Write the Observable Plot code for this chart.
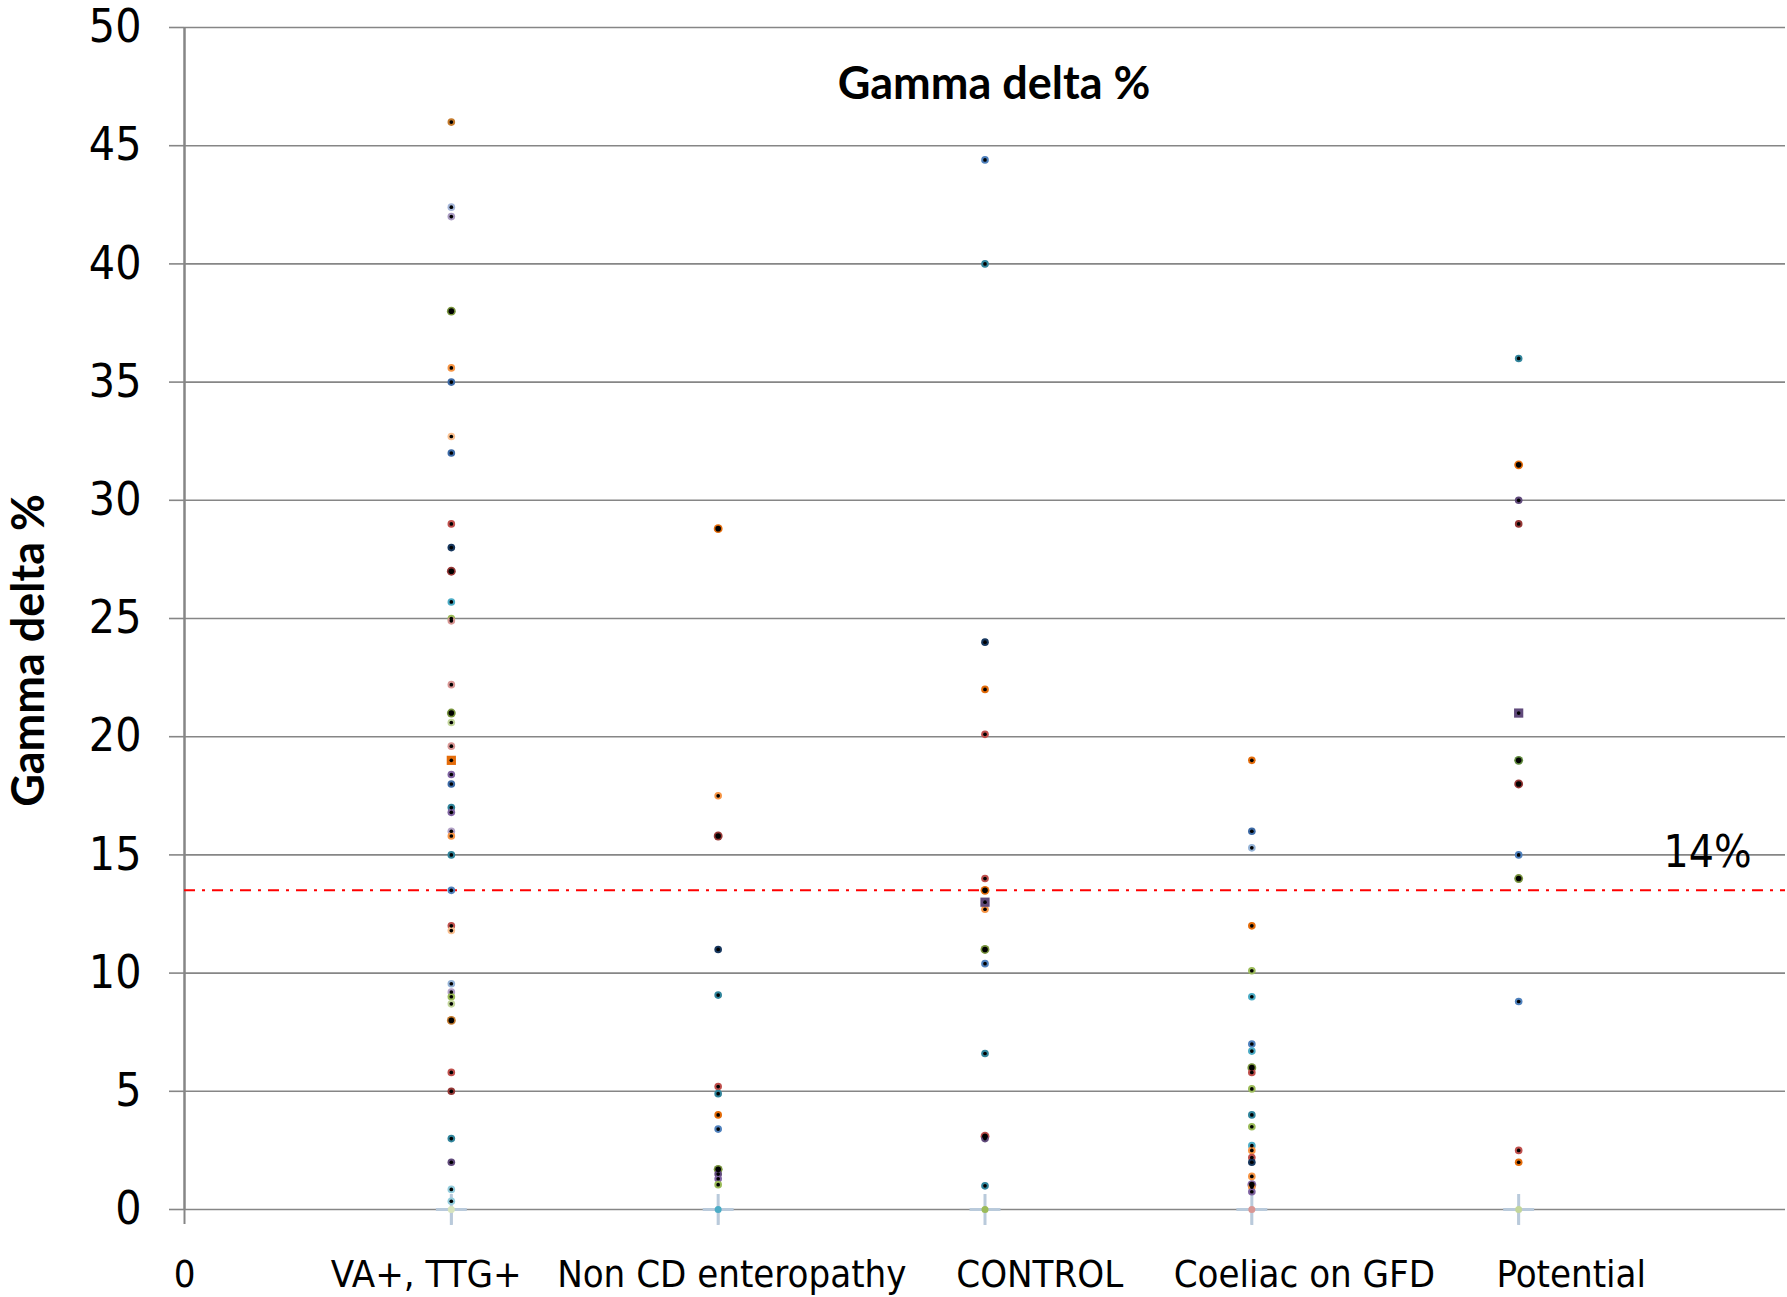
<!DOCTYPE html>
<html>
<head>
<meta charset="utf-8">
<script src="https://cdn.jsdelivr.net/npm/d3@7"></script>
<script src="https://cdn.jsdelivr.net/npm/@observablehq/plot@0.6"></script>
<style>
  html, body { margin: 0; padding: 0; background: #fff; }
  #chart svg { display: block; }
</style>
</head>
<body>
<div id="chart"></div>
<script>
// ---------- data ----------
const categories = ["VA+, TTG+", "Non CD enteropathy", "CONTROL", "Coeliac on GFD", "Potential"];
const xTickLabels = ["0", ...categories];
const yTicks = [0, 5, 10, 15, 20, 25, 30, 35, 40, 45, 50];
const chartTitle = "Gamma delta %";
const yLabel = "Gamma delta %";
const cutoff = 13.5;
const cutoffLabel = "14%";

const vaTtgValues = [46.0, 42.4, 42.0, 38.0, 35.6, 35.0, 32.7, 32.0, 29.0, 28.0, 27.0, 25.7, 25.0, 24.9,
  22.2, 21.0, 20.6, 19.6, 19.0, 18.4, 18.0, 17.0, 16.8, 16.0, 15.8, 15.0, 13.5, 12.0, 11.8,
  9.55, 9.2, 9.0, 8.7, 8.0, 5.8, 5.0, 3.0, 2.0, 0.85, 0.35];
const nonCdValues = [28.8, 17.5, 15.8, 11.0, 9.07, 5.2, 4.9, 4.0, 3.4, 1.7, 1.5, 1.3, 1.05];
const controlValues = [44.4, 40.0, 24.0, 22.0, 20.1, 14.0, 13.5, 13.0, 12.7, 11.0, 10.4, 6.6, 3.1, 3.0, 1.0];
const coeliacGfdValues = [19.0, 16.0, 15.3, 12.0, 10.1, 9.0, 7.0, 6.7, 6.0, 5.8, 5.1, 4.0, 3.5, 2.7, 2.5,
  2.2, 2.0, 1.4, 1.05, 0.95, 0.75];
const potentialValues = [36.0, 31.5, 30.0, 29.0, 21.0, 19.0, 18.0, 15.0, 14.0, 8.8, 2.5, 2.0];
const zeroValues = [0, 0, 0, 0, 0];

// ---------- styles (marker colours / kinds: s = small, L = large, q = square) ----------
const vaTtgColors = ["#C47A2C", "#A5B6D9", "#A99BC1", "#77933C", "#F79646", "#3D6AA6", "#FAC090", "#3D6AA6",
  "#C0504D", "#17375E", "#953735", "#4BACC6", "#9BBB59", "#D99694", "#D99694", "#77933C", "#C3D69B",
  "#D99694", "#E46C0A", "#8064A2", "#3D6AA6", "#31859C", "#8064A2", "#B3A2C7", "#F79646", "#31859C",
  "#4F81BD", "#C0504D", "#FAC090", "#95B3D7", "#B3A2C7", "#9BBB59", "#C3D69B", "#C47A2C", "#C0504D",
  "#953735", "#31859C", "#604A7B", "#93CDDD", "#93CDDD"];
const vaTtgKinds = ["s","s","s","L","s","s","s","s","s","s","L","s","s","s","s","L","s","s","q","s","s","s",
  "s","s","s","s","s","s","s","s","s","s","s","L","s","s","s","s","s","s"];
const nonCdColors = ["#E46C0A", "#F79646", "#953735", "#17375E", "#31859C", "#C0504D", "#31859C", "#E46C0A",
  "#4F81BD", "#77933C", "#604A7B", "#8064A2", "#9BBB59"];
const nonCdKinds = ["L","s","L","s","s","s","s","s","s","L","s","s","s"];
const controlColors = ["#4F81BD", "#31859C", "#17375E", "#E46C0A", "#C0504D", "#C0504D", "#E46C0A", "#604A7B",
  "#F79646", "#77933C", "#4F81BD", "#31859C", "#C0504D", "#604A7B", "#31859C"];
const controlKinds = ["s","s","s","s","s","s","L","q","s","L","s","s","L","s","s"];
const coeliacGfdColors = ["#E46C0A", "#3D6AA6", "#95B3D7", "#E46C0A", "#9BBB59", "#4BACC6", "#4F81BD", "#4BACC6",
  "#77933C", "#C0504D", "#9BBB59", "#31859C", "#9BBB59", "#4BACC6", "#F79646", "#C0504D", "#17375E",
  "#F79646", "#8064A2", "#F79646", "#8064A2"];
const coeliacGfdKinds = ["s","s","s","s","s","s","s","s","L","s","s","s","s","s","s","s","s","s","L","s","s"];
const potentialColors = ["#31859C", "#E46C0A", "#604A7B", "#953735", "#604A7B", "#5F8A3C", "#953735", "#4F81BD",
  "#77933C", "#4F81BD", "#C0504D", "#E46C0A"];
const potentialKinds = ["s","L","s","s","q","L","L","s","L","s","s","s"];
const zeroColors = ["#D7E4BD", "#4BACC6", "#9BBB59", "#D99694", "#C3D69B"];

// ---------- table ----------
const groups = [
  [vaTtgValues, vaTtgColors, vaTtgKinds],
  [nonCdValues, nonCdColors, nonCdKinds],
  [controlValues, controlColors, controlKinds],
  [coeliacGfdValues, coeliacGfdColors, coeliacGfdKinds],
  [potentialValues, potentialColors, potentialKinds]
];
const points = [];
groups.forEach(([vals, cols, kinds], gi) => {
  vals.forEach((v, i) => points.push({cat: gi + 1, value: v, color: cols[i], kind: kinds[i]}));
});
const zeros = zeroValues.map((v, i) => ({cat: i + 1, value: v, color: zeroColors[i]}));

const circles = points.filter(d => d.kind !== "q");
const squares = points.filter(d => d.kind === "q");

// label placement of the category names (Excel text-axis offset)
const labelShift = [0, -0.094, 0.051, 0.205, 0.197, 0.197];
const labelTicks = xTickLabels.map((_, i) => i + labelShift[i]);

const NARROW = "'Liberation Sans Narrow', 'DejaVu Sans Condensed', 'Open Sans', sans-serif";
const BOLD = "Lato, 'Open Sans', sans-serif";
const GRID = "#868686";

const plot = Plot.plot({
  width: 1787,
  height: 1297,
  marginLeft: 184,
  marginRight: 2,
  marginTop: 27,
  marginBottom: 88,
  style: {fontFamily: NARROW, background: "#fff", overflow: "visible"},
  x: {domain: [0, 6], axis: null},
  y: {domain: [0, 50], axis: null},
  marks: [
    Plot.ruleY(yTicks, {stroke: GRID, strokeWidth: 1.6}),
    Plot.axisY({
      ticks: yTicks, tickSize: 15, tickPadding: 28, stroke: GRID, strokeWidth: 1.6,
      fontSize: 46, fill: "#000", label: null
    }),
    Plot.axisX({
      ticks: [0, 1, 2, 3, 4, 5], tickSize: 15, tickFormat: () => "", stroke: GRID, strokeWidth: 2, label: null
    }),
    Plot.axisX({
      ticks: labelTicks, tickSize: 0, tickPadding: 51, fontSize: 38, fill: "#000",
      tickFormat: (d, i) => xTickLabels[i], label: null
    }),
    Plot.ruleX([0], {stroke: GRID, strokeWidth: 2.5}),
    Plot.ruleY([cutoff], {stroke: "#FF0000", strokeWidth: 2, strokeDasharray: "11,7,3,7"}),
    Plot.text([yLabel], {
      frameAnchor: "left", rotate: -90, dx: -155, dy: 32, lineAnchor: "middle", textAnchor: "middle",
      fontSize: 45, fontWeight: "bold", fontFamily: BOLD, fill: "#000"
    }),
    Plot.text([chartTitle], {
      frameAnchor: "top", dx: 9, dy: 40, fontSize: 45, fontWeight: "bold",
      fontFamily: BOLD, fill: "#000"
    }),
    Plot.text([cutoffLabel], {
      frameAnchor: "right", y: () => cutoff, dx: -34, dy: -37, textAnchor: "end",
      fontSize: 44, fill: "#000"
    }),
    // zero markers
    Plot.dot(zeros, {x: "cat", y: "value", symbol: "plus", r: 10, stroke: "#B9CADB", strokeWidth: 3}),
    Plot.dot(zeros, {x: "cat", y: "value", r: 3.5, fill: "color"}),
    // data markers
    Plot.dot(circles, {x: "cat", y: "value", r: d => d.kind === "L" ? 7 : 5.2, fill: "color"}),
    Plot.dot(squares, {x: "cat", y: "value", symbol: "square", r: 5.2, fill: "color"}),
    Plot.dot(points, {x: "cat", y: "value", r: d => d.kind === "L" ? 2.8 : 1.2, fill: "#000"})
  ]
});

document.getElementById("chart").appendChild(plot);
</script>
</body>
</html>
